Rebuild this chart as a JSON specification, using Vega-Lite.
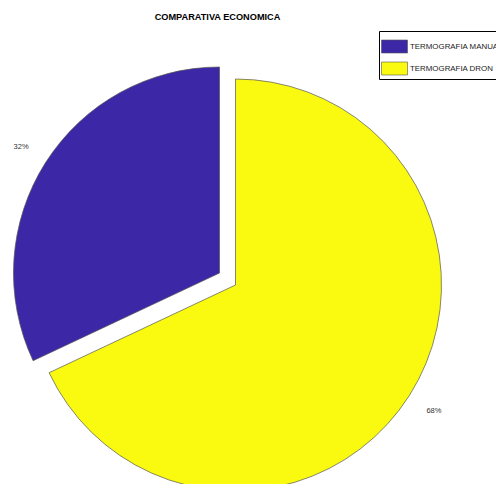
{
  "$schema": "https://vega.github.io/schema/vega-lite/v6.json",
  "width": 471,
  "height": 490,
  "autosize": {"type": "none"},
  "padding": {"left": 0, "top": 40, "right": 25, "bottom": 0},
  "background": "white",
  "title": {"text": "COMPARATIVA ECONOMICA", "anchor": "middle", "frame": "group", "offset": 8, "dx": -18, "font": "Liberation Sans", "fontSize": 9.2, "fontWeight": "bold", "color": "#000"},
  "data": {"values": [
    {"category": "TERMOGRAFIA MANUAL", "value": 32, "label": "32%"},
    {"category": "TERMOGRAFIA DRON", "value": 68, "label": "68%"}
  ]},
  "encoding": {
    "theta": {"field": "value", "type": "quantitative", "stack": true, "scale": {"domain": [0, 100]}},
    "order": {"field": "value", "sort": "descending"}
  },
  "layer": [
    {
      "mark": {"type": "arc", "radius": 206, "stroke": "#555", "strokeWidth": 0.7},
      "encoding": {
        "color": {"field": "category", "type": "nominal", "sort": ["TERMOGRAFIA MANUAL", "TERMOGRAFIA DRON"],
          "scale": {"domain": ["TERMOGRAFIA MANUAL", "TERMOGRAFIA DRON"], "range": ["#3c27a6", "#f9fa10"]},
          "legend": {"title": null, "orient": "none", "legendX": 379, "legendY": -9, "padding": 2, "strokeColor": "#000", "fillColor": "#fff",
            "symbolType": "M-1,-0.5H1V0.5H-1Z", "symbolSize": 676, "symbolStrokeColor": "#000", "symbolStrokeWidth": 0.6, "symbolOpacity": 1,
            "labelFont": "Liberation Sans", "labelFontSize": 7.9, "labelColor": "#222", "labelOffset": 2, "rowPadding": -4.5, "labelLimit": 200}},
        "opacity": {"condition": {"test": "datum.category === 'TERMOGRAFIA MANUAL'", "value": 0}, "value": 1}
      }
    },
    {
      "mark": {"type": "arc", "radius": 206, "stroke": "#555", "strokeWidth": 0.7, "xOffset": -16, "yOffset": -12},
      "encoding": {
        "color": {"field": "category", "type": "nominal"},
        "opacity": {"condition": {"test": "datum.category === 'TERMOGRAFIA MANUAL'", "value": 1}, "value": 0}
      }
    },
    {
      "mark": {"type": "text", "radius": 235, "font": "Liberation Sans", "fontSize": 7.5, "color": "#333"},
      "encoding": {
        "text": {"field": "label"},
        "opacity": {"condition": {"test": "datum.category === 'TERMOGRAFIA MANUAL'", "value": 0}, "value": 1}
      }
    },
    {
      "mark": {"type": "text", "radius": 235, "font": "Liberation Sans", "fontSize": 7.5, "color": "#333", "xOffset": -16, "yOffset": -12},
      "encoding": {
        "text": {"field": "label"},
        "opacity": {"condition": {"test": "datum.category === 'TERMOGRAFIA MANUAL'", "value": 1}, "value": 0}
      }
    }
  ],
  "config": {"view": {"stroke": null}}
}
